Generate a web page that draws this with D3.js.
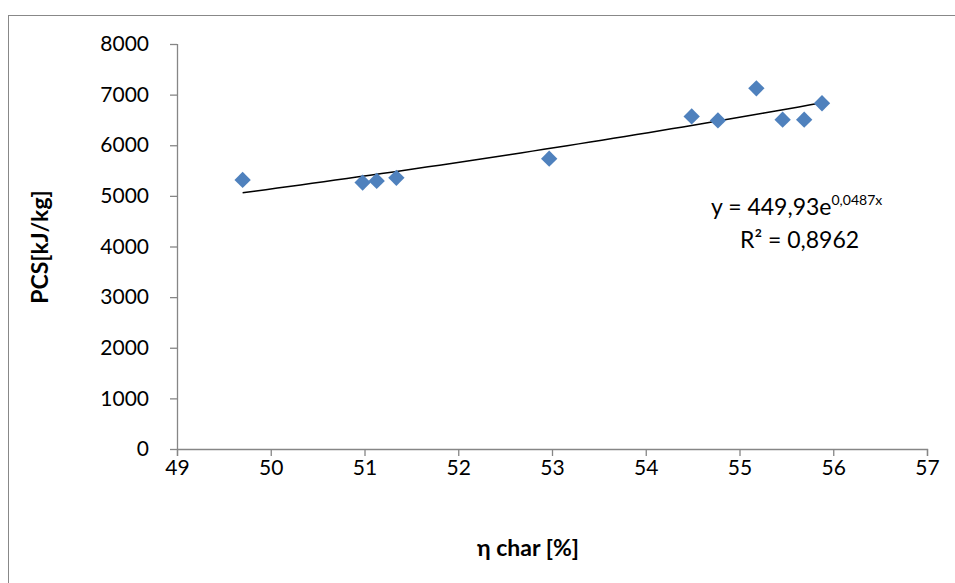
<!DOCTYPE html>
<html><head><meta charset="utf-8">
<script src="https://cdn.jsdelivr.net/npm/d3@7"></script>
<style>body{margin:0;background:#fff}svg{display:block}</style>
</head><body>
<svg id="c" width="955" height="583"></svg>
<script>
const xValues = [49.70, 50.98, 51.13, 51.34, 52.97, 54.49, 54.77, 55.18, 55.46, 55.69, 55.88];
const yValues = [5316, 5262, 5296, 5356, 5735, 6570, 6490, 7125, 6505, 6505, 6830];
const xTicks = [49, 50, 51, 52, 53, 54, 55, 56, 57];
const yTicks = [0, 1000, 2000, 3000, 4000, 5000, 6000, 7000, 8000];
const trendA = 449.93, trendB = 0.0487;
const eqText = "y = 449,93e", eqExp = "0,0487x", r2Text = "R² = 0,8962";
const xTitle = "η char [%]", yTitle = "PCS[kJ/kg]";

const svg = d3.select("#c");
const font = "Lato, 'Open Sans', sans-serif";
svg.append("rect").attr("x", 8.5).attr("y", 15.5).attr("width", 960).attr("height", 600)
  .attr("fill", "none").attr("stroke", "#888").attr("stroke-width", 1);

const x = d3.scaleLinear().domain([49, 57]).range([177, 927]);
const y = d3.scaleLinear().domain([0, 8000]).range([449, 44]);

const axisColor = "#868686";
const gx = svg.append("g").attr("transform", "translate(0,449)")
  .call(d3.axisBottom(x).tickValues(xTicks).tickSize(7).tickPadding(4).tickFormat(d3.format("d")));
const gy = svg.append("g").attr("transform", "translate(177,0)")
  .call(d3.axisLeft(y).tickValues(yTicks).tickSize(7).tickPadding(21).tickFormat(d3.format("d")));
[gx, gy].forEach(g => {
  g.select(".domain").attr("stroke", axisColor).attr("stroke-width", 1.3);
  g.selectAll(".tick line").attr("stroke", axisColor).attr("stroke-width", 1.3);
  g.selectAll(".tick text").attr("fill", "#000").style("font-family", font).style("font-size", "21px");
});
gx.selectAll(".tick text").attr("dy", "0.72em");
gy.select(".domain").attr("d", "M0.5,44V449.5");

// trendline (exponential fit as shown)
const tx = d3.range(0, 51).map(i => d3.min(xValues) + i * (d3.max(xValues) - d3.min(xValues)) / 50);
const line = d3.line().x(d => x(d)).y(d => y(trendA * Math.exp(trendB * d)));
svg.append("path").datum(tx).attr("d", line).attr("fill", "none").attr("stroke", "#000").attr("stroke-width", 1.5);

const sym = d3.symbol().type(d3.symbolDiamond2).size(170);
svg.selectAll(".pt").data(xValues.map((v, i) => [v, yValues[i]])).enter().append("path")
  .attr("transform", d => `translate(${x(d[0])},${y(d[1])})`)
  .attr("d", sym).attr("fill", "#4F81BD");

const eq = svg.append("text").attr("x", 711).attr("y", 215)
  .style("font-family", font).style("font-size", "23px").attr("fill", "#000");
eq.append("tspan").text(eqText);
eq.append("tspan").attr("dy", -10).style("font-size", "14px").text(eqExp);
svg.append("text").attr("x", 740).attr("y", 248)
  .style("font-family", font).style("font-size", "23px").attr("fill", "#000").text(r2Text);

svg.append("text").attr("x", 528).attr("y", 556).attr("text-anchor", "middle")
  .style("font-family", font).style("font-size", "23px").style("font-weight", "bold").text(xTitle);
svg.append("text").attr("transform", "translate(48,247) rotate(-90)").attr("text-anchor", "middle")
  .style("font-family", font).style("font-size", "23px").style("font-weight", "bold").text(yTitle);
</script>
</body></html>
